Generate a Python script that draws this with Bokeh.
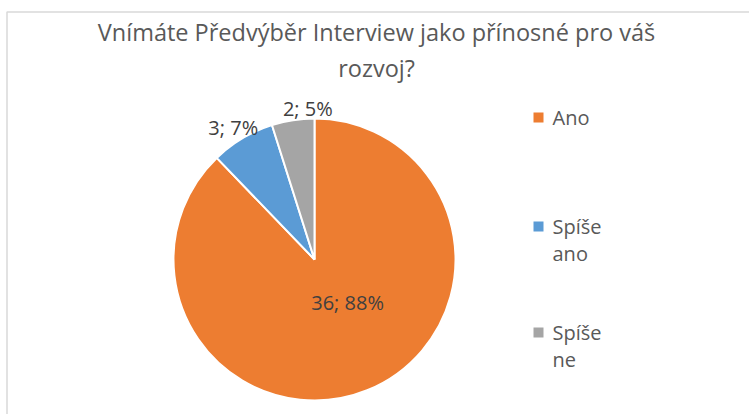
import math
from bokeh.plotting import figure
from bokeh.models import Range1d, ColumnDataSource
from bokeh.core.properties import value
from bokeh.embed import file_html
from bokeh.resources import INLINE

# ---- data ----
TITLE_LINES = ["Vnímáte Předvýběr Interview jako přínosné pro váš", "rozvoj?"]
categories = ["Ano", "Spíše ano", "Spíše ne"]
counts = [36, 3, 2]
percents = ["88%", "7%", "5%"]
colors = ["#ED7D31", "#5B9BD5", "#A5A5A5"]

# ---- layout ----
W, H = 749, 414
FONT = "Open Sans"

def py(page_y):
    return H - page_y

def px(page_x):
    return page_x

p = figure(width=W, height=H, output_backend="svg", toolbar_location=None,
           x_range=Range1d(0, W), y_range=Range1d(0, H), min_border=0,
           x_axis_type=None, y_axis_type=None)
p.outline_line_color = None
p.xgrid.visible = False
p.ygrid.visible = False
p.background_fill_color = "white"
p.border_fill_color = "white"

# chart area border (left and top visible)
p.line(x=[px(6.5), px(6.5), W], y=[0, py(11.5), py(11.5)], line_color="#D9D9D9", line_width=1.5)

# title
for i, line in enumerate(TITLE_LINES):
    p.text(x=[px(376)], y=[py(31 + 36 * i)], text=[line], text_align="center",
           text_baseline="middle", text_font=value(FONT), text_font_size="23.5px",
           text_color="#595959")

# pie
cx, cy, R = px(314), py(259), 141
total = sum(counts)
starts, ends, mids = [], [], []
a = math.pi / 2
for c in counts:
    sweep = 2 * math.pi * c / total
    starts.append(a)
    ends.append(a - sweep)
    mids.append(a - sweep / 2)
    a -= sweep

src = ColumnDataSource(dict(start=starts, end=ends, color=colors))
p.wedge(x=cx, y=cy, radius=R, start_angle="start", end_angle="end", direction="clock",
        fill_color="color", line_color="white", line_width=2, source=src)

# data labels
label_r = [0.4, 1.1, 1.1]
label_dx = [12, -2, 17]
label_dy = [9, -1, -2]
lx, ly, lt = [], [], []
for i in range(len(counts)):
    lx.append(cx + label_r[i] * R * math.cos(mids[i]) + label_dx[i])
    ly.append(cy + label_r[i] * R * math.sin(mids[i]) + label_dy[i])
    lt.append(f"{counts[i]}; {percents[i]}")
p.text(x=lx, y=ly, text=lt, text_align="center", text_baseline="middle",
       text_font=value(FONT), text_font_size="20px", text_color="#404040")

# legend
leg_y = [117, 226, 332]
line_gap = 26.6
for i, cat in enumerate(categories):
    p.scatter(x=[px(538)], y=[py(leg_y[i])], marker="square", size=10,
              fill_color=colors[i], line_color=None)
    words = cat.split(" ")
    p.text(x=[px(552)] * len(words), y=[py(leg_y[i] + line_gap * k) for k in range(len(words))],
           text=words, text_align="left", text_baseline="middle",
           text_font=value(FONT), text_font_size="20px", text_color="#595959")

open("out.html", "w").write(file_html(p, INLINE))
